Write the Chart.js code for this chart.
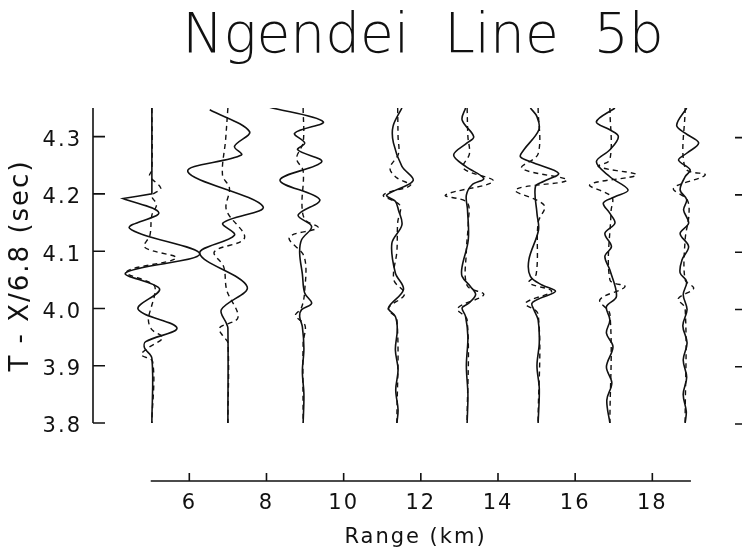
<!DOCTYPE html>
<html>
<head>
<meta charset="utf-8">
<title>Ngendei Line 5b</title>
<script src="https://cdn.jsdelivr.net/npm/chart.js@4.4.1/dist/chart.umd.min.js"></script>
<style>
  html, body { margin: 0; padding: 0; background: #fff; }
</style>
</head>
<body>
<canvas id="seis" width="746" height="548"></canvas>
<script>

// range of each trace along the line (km)
var ranges = [5.03, 7.0, 8.95, 11.38, 13.2, 15.04, 16.9, 18.85];

// reduced time (sec) and trace deflection (km), one list per trace
var solidTimes = [
    [4.35, 4.275, 4.20, 4.20, 4.192, 4.192, 4.167, 4.140, 4.095, 4.062, 4.034, 3.999, 3.966, 3.942, 3.931, 3.913, 3.80],
    [4.347, 4.309, 4.283, 4.268, 4.239, 4.178, 4.149, 4.128, 4.096, 4.038, 3.998, 3.974, 3.966, 3.80],
    [4.352, 4.326, 4.306, 4.289, 4.277, 4.256, 4.224, 4.190, 4.163, 4.143, 4.120, 4.097, 4.060, 4.027, 4.009, 3.998, 3.986, 3.968, 3.93, 3.89, 3.85, 3.80],
    [4.35, 4.318, 4.289, 4.248, 4.223, 4.198, 4.187, 4.172, 4.146, 4.114, 4.062, 4.033, 4.001, 3.986, 3.963, 3.928, 3.893, 3.858, 3.823, 3.80],
    [4.35, 4.329, 4.30, 4.289, 4.268, 4.248, 4.227, 4.216, 4.198, 4.172, 4.12, 4.073, 4.056, 4.038, 4.024, 4.009, 4.001, 3.986, 3.95, 3.90, 3.85, 3.80],
    [4.35, 4.335, 4.312, 4.277, 4.265, 4.254, 4.236, 4.222, 4.213, 4.166, 4.137, 4.085, 4.056, 4.041, 4.03, 4.018, 4.009, 3.998, 3.98, 3.94, 3.90, 3.86, 3.80],
    [4.35, 4.326, 4.312, 4.30, 4.277, 4.256, 4.23, 4.207, 4.195, 4.184, 4.166, 4.149, 4.131, 4.108, 4.091, 4.067, 4.021, 4.003, 3.98, 3.957, 3.933, 3.898, 3.87, 3.84, 3.80],
    [4.35, 4.32, 4.306, 4.289, 4.271, 4.259, 4.242, 4.23, 4.207, 4.19, 4.172, 4.149, 4.131, 4.108, 4.085, 4.062, 4.047, 4.024, 3.998, 3.97, 3.94, 3.91, 3.88, 3.85, 3.82, 3.80]
];
var solidAmps = [
    [0, 0, 0, 0, -0.75, -0.75, 0.18, -0.58, 1.24, -0.68, 0.20, -0.36, 0.65, -0.16, -0.19, 0, 0],
    [-0.47, 0.56, 0.17, 0.35, -1.04, 0.91, -0.13, 0.17, -0.73, 0.50, -0.17, -0.04, 0, 0],
    [-0.91, 0.52, -0.22, 0.04, -0.14, 0.48, -0.60, 0.43, -0.13, 0.22, -0.04, -0.09, -0.02, 0.04, 0.22, -0.04, -0.09, -0.02, 0.02, -0.02, 0.02, 0],
    [0.13, -0.10, -0.09, 0.13, 0.42, -0.26, -0.04, 0.04, 0.13, -0.13, -0.04, 0.17, -0.22, -0.04, 0.01, -0.04, 0.03, -0.03, 0.03, 0],
    [-0.04, -0.13, 0.17, 0, -0.35, -0.04, 0.43, 0.13, -0.02, 0.01, 0.03, -0.13, -0.13, 0.09, 0.22, 0.04, -0.13, -0.04, 0.02, -0.02, 0.02, 0],
    [-0.2, -0.03, 0.02, -0.37, -0.46, -0.11, 0.53, 0.15, -0.07, -0.03, 0.01, -0.24, -0.2, 0.1, 0.45, 0.06, -0.16, -0.11, 0, 0.03, -0.03, 0.03, 0],
    [0.13, -0.35, 0, 0.22, 0, -0.35, 0, 0.47, 0.13, -0.17, 0, 0.13, -0.13, 0.04, -0.13, 0, 0.17, -0.09, 0, -0.09, 0.08, -0.09, 0.05, -0.08, 0],
    [0.04, -0.22, 0, 0.35, 0.04, -0.17, 0.13, 0, -0.13, 0.04, -0.04, 0.09, -0.13, 0.09, -0.08, -0.13, 0.04, -0.05, 0.05, -0.06, 0.05, -0.05, 0.04, -0.05, 0.03, 0]
];

var dashTimes = [
    [4.35, 4.242, 4.231, 4.21, 4.197, 4.181, 4.163, 4.128, 4.107, 4.088, 4.064, 4.041, 4.024, 4.006, 3.98, 3.963, 3.949, 3.931, 3.919, 3.907, 3.80],
    [4.35, 4.294, 4.233, 4.21, 4.172, 4.123, 4.099, 4.073, 4.032, 3.984, 3.966, 3.952, 3.94, 3.80],
    [4.35, 4.29, 4.262, 4.24, 4.18, 4.155, 4.141, 4.124, 4.09, 4.03, 4.00, 3.988, 3.97, 3.94, 3.80],
    [4.35, 4.30, 4.27, 4.245, 4.228, 4.215, 4.198, 4.18, 4.15, 4.10, 4.05, 4.025, 4.0, 3.98, 3.80],
    [4.35, 4.30, 4.27, 4.245, 4.222, 4.198, 4.185, 4.15, 4.10, 4.04, 4.024, 4.0, 3.98, 3.80],
    [4.35, 4.27, 4.245, 4.224, 4.207, 4.18, 4.15, 4.06, 4.045, 4.03, 4.009, 3.99, 3.80],
    [4.35, 4.26, 4.248, 4.233, 4.216, 4.195, 4.17, 4.05, 4.038, 4.015, 3.99, 3.80],
    [4.35, 4.245, 4.233, 4.21, 4.19, 4.165, 4.12, 4.05, 4.035, 4.017, 4.0, 3.80]
];
var dashAmps = [
    [0, 0, -0.06, 0.23, 0, 0.12, 0, -0.05, -0.19, 0.63, -0.66, 0.05, 0.07, 0, -0.09, 0, 0.28, -0.1, -0.27, 0.02, 0],
    [0, -0.06, -0.14, 0.04, -0.04, 0.43, -0.35, -0.11, -0.03, 0.26, -0.22, -0.13, 0, 0],
    [0, 0, -0.17, 0, -0.03, 0.05, 0.38, -0.36, 0.03, 0.04, -0.05, -0.2, 0.05, 0, 0],
    [0.02, 0.03, 0.04, -0.18, 0, 0.35, -0.35, 0.08, 0.02, 0, -0.08, 0.2, -0.22, 0, 0],
    [0, 0.02, 0.06, -0.1, 0.68, -0.56, 0, 0.03, -0.02, 0, 0.43, -0.25, 0, 0],
    [0, 0, -0.42, 0.75, -0.59, 0.16, 0, -0.05, -0.24, 0.35, -0.33, 0, 0],
    [0, 0, -0.3, 0.69, -0.52, 0.05, 0.03, 0, 0.39, -0.26, 0, 0],
    [0, 0, 0.52, -0.3, 0.05, 0.1, 0, 0, 0.22, -0.18, 0, 0]
];

var timeTicks = [3.8, 3.9, 4.0, 4.1, 4.2, 4.3];
var rangeTicks = [6, 8, 10, 12, 14, 16, 18];
var rangeAxisSpan = [5, 19];

var ink = "#111";
Chart.defaults.font.family = '"DejaVu Sans", "Liberation Sans", sans-serif';
Chart.defaults.color = ink;

function tracePoints(base, times, amps) {
    return times.map(function (t, i) {
        return { x: base + amps[i], y: t };
    });
}

var datasets = [];
ranges.forEach(function (r, i) {
    datasets.push({
        data: tracePoints(r, solidTimes[i], solidAmps[i]),
        borderColor: ink,
        borderWidth: 1.6,
        pointRadius: 0,
        tension: 0.35,
        fill: false
    });
    datasets.push({
        data: tracePoints(r, dashTimes[i], dashAmps[i]),
        borderColor: ink,
        borderWidth: 1.4,
        borderDash: [5, 4],
        pointRadius: 0,
        tension: 0.35,
        fill: false
    });
});

// axis lines and inward ticks, plus the big title
var framePlugin = {
    id: "frame",
    beforeDraw: function (chart) {
        chart.ctx.letterSpacing = "2px";
    },
    afterDraw: function (chart) {
        var ctx = chart.ctx;
        var xs = chart.scales.x;
        var ys = chart.scales.y;
        var area = chart.chartArea;
        ctx.save();
        ctx.strokeStyle = ink;
        ctx.lineWidth = 1.6;
        ctx.beginPath();
        ctx.moveTo(area.left, ys.getPixelForValue(timeTicks[0]));
        ctx.lineTo(area.left, area.top);
        timeTicks.forEach(function (v) {
            var py = ys.getPixelForValue(v);
            ctx.moveTo(area.left, py);
            ctx.lineTo(area.left + 12, py);
            ctx.moveTo(area.right - 3, py + 1);
            ctx.lineTo(area.right + 4, py + 1);
        });
        var by = area.bottom + 58;
        ctx.moveTo(xs.getPixelForValue(rangeAxisSpan[0]), by);
        ctx.lineTo(xs.getPixelForValue(rangeAxisSpan[1]), by);
        rangeTicks.forEach(function (v) {
            var px = xs.getPixelForValue(v);
            ctx.moveTo(px, by);
            ctx.lineTo(px, by - 8);
        });
        ctx.stroke();

        ctx.letterSpacing = "0px";
        ctx.fillStyle = ink;
        ctx.font = '200 55px "DejaVu Sans"';
        ctx.textAlign = "center";
        ctx.textBaseline = "alphabetic";
        ctx.fillText("Ngendei  Line  5b", 423, 52);
        ctx.restore();
    }
};

new Chart(document.getElementById("seis"), {
    type: "line",
    data: { datasets: datasets },
    plugins: [framePlugin],
    options: {
        responsive: false,
        animation: false,
        devicePixelRatio: 1,
        layout: { padding: { top: 108, right: 8, left: 0, bottom: 0 } },
        plugins: {
            legend: { display: false },
            tooltip: { enabled: false }
        },
        scales: {
            x: {
                type: "linear",
                min: 3.504,
                max: 20.22,
                afterBuildTicks: function (s) {
                    s.ticks = rangeTicks.map(function (v) { return { value: v }; });
                },
                afterFit: function (s) { s.height = 125; },
                grid: { display: false, drawTicks: false },
                border: { display: false },
                ticks: { padding: 68, autoSkip: false, maxRotation: 0, font: { size: 21 } },
                title: {
                    display: true,
                    text: "Range (km)",
                    font: { size: 21 },
                    padding: { top: 0, bottom: -2 }
                }
            },
            y: {
                type: "linear",
                min: 3.8,
                max: 4.35,
                afterBuildTicks: function (s) {
                    s.ticks = timeTicks.map(function (v) { return { value: v }; });
                },
                afterFit: function (s) { s.width = 93; },
                grid: { display: false, drawTicks: false },
                border: { display: false },
                ticks: {
                    padding: 11,
                    labelOffset: 4,
                    font: { size: 21 },
                    callback: function (v) { return v.toFixed(1); }
                },
                title: {
                    display: true,
                    text: "T - X/6.8 (sec)",
                    font: { size: 26 },
                    padding: { top: 6, bottom: 0 }
                }
            }
        }
    }
});
</script>
</body>
</html>
